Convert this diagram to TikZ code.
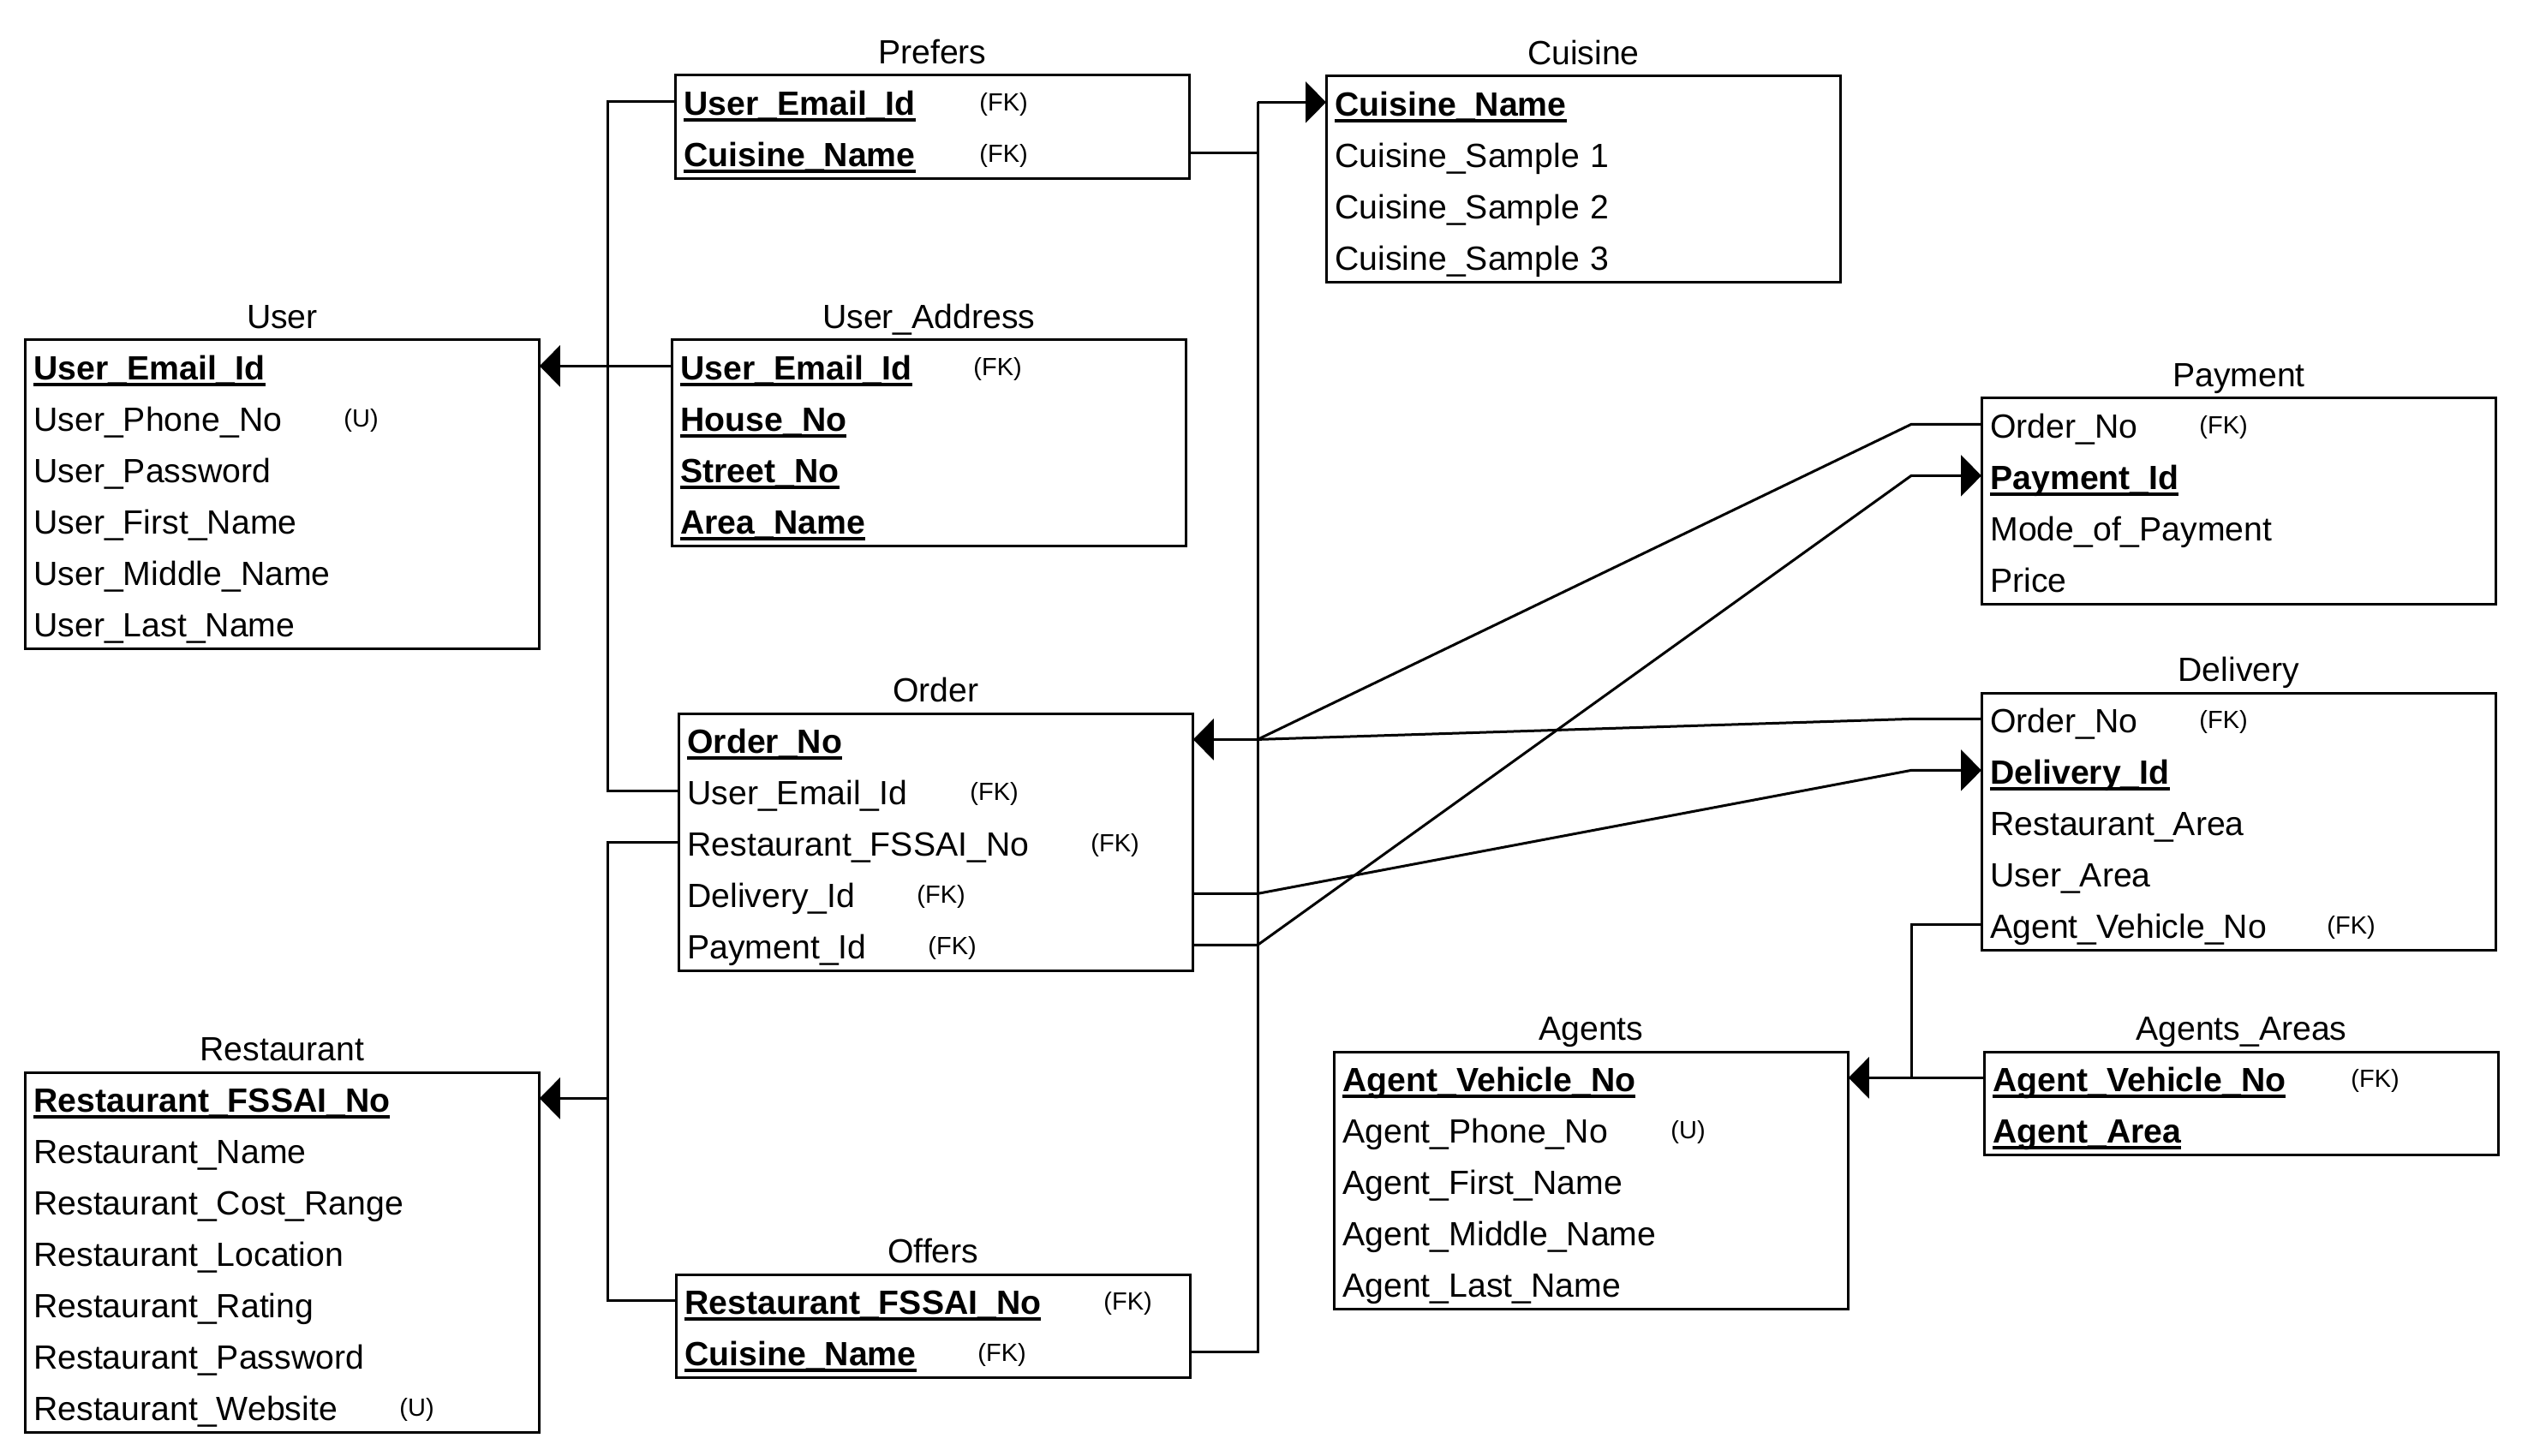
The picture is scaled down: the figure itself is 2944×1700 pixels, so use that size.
\documentclass[tikz,border=0pt]{standalone}
\usepackage{fontspec}
\setmainfont{Liberation Sans}
\usetikzlibrary{arrows.meta,calc,fit}

\newcommand\fieldfont{\fontsize{19.6pt}{23pt}\selectfont}
\newcommand\tagfont{\fontsize{14.5pt}{17pt}\selectfont}
\newsavebox\pkbox
% bold key attribute with a solid underline
\newcommand\pkey[1]{\sbox\pkbox{\bfseries #1}\rlap{\rule[-0.19em]{\wd\pkbox}{0.11em}}\usebox\pkbox}

\tikzset{
  x=0.5pt, y=-0.5pt,
  rowcell/.style={anchor=north west, inner xsep=5pt, inner ysep=0pt,
    text width=290pt, minimum height=30pt, text height=16pt, text depth=0pt,
    align=left, font=\fieldfont},
  entbox/.style={draw, line width=1.5pt, inner sep=0pt},
  ttl/.style={anchor=base, inner sep=0pt, font=\fieldfont},
  tag/.style={anchor=base west, inner sep=0pt, font=\tagfont},
  conn/.style={line width=1.5pt},
  arr/.style={conn, -{Triangle[length=12pt,width=24pt]}},
}

% \ent{name}{x}{y}{rows}{title}{list of fields}
\newcommand\ent[6]{%
  \foreach \fld [count=\i] in {#6} {
    \node[rowcell] (#1\i) at (#2,{#3+60*(\i-1)}) {\fld};
  }
  \node[entbox, fit=(#11)(#1#4)] (#1) {};
  \node[ttl] (#1-title) at ([yshift=6pt]#1.north) {#5};
}
% \fk{row}{offset}{text}
\newcommand\fk[3]{\node[tag] (#1-tag) at ([shift={(#2,11)}]#1.west) {#3};}

\begin{document}
\begin{tikzpicture}
\useasboundingbox (0,0) rectangle (2944,1700);

% entities
\ent{user}{29}{397}{6}{User}{\pkey{User\_Email\_Id},User\_Phone\_No,User\_Password,User\_First\_Name,User\_Middle\_Name,User\_Last\_Name}
\ent{pref}{788}{88}{2}{Prefers}{\pkey{User\_Email\_Id},\pkey{Cuisine\_Name}}
\ent{cuis}{1548}{89}{4}{Cuisine}{\pkey{Cuisine\_Name},Cuisine\_Sample 1,Cuisine\_Sample 2,Cuisine\_Sample 3}
\ent{addr}{784}{397}{4}{User\_Address}{\pkey{User\_Email\_Id},\pkey{House\_No},\pkey{Street\_No},\pkey{Area\_Name}}
\ent{ord}{792}{833}{5}{Order}{\pkey{Order\_No},User\_Email\_Id,Restaurant\_FSSAI\_No,Delivery\_Id,Payment\_Id}
\ent{pay}{2313}{465}{4}{Payment}{Order\_No,\pkey{Payment\_Id},Mode\_of\_Payment,Price}
\ent{del}{2313}{809}{5}{Delivery}{Order\_No,\pkey{Delivery\_Id},Restaurant\_Area,User\_Area,Agent\_Vehicle\_No}
\ent{rest}{29}{1252}{7}{Restaurant}{\pkey{Restaurant\_FSSAI\_No},Restaurant\_Name,Restaurant\_Cost\_Range,Restaurant\_Location,Restaurant\_Rating,Restaurant\_Password,Restaurant\_Website}
\ent{offr}{789}{1488}{2}{Offers}{\pkey{Restaurant\_FSSAI\_No},\pkey{Cuisine\_Name}}
\ent{agt}{1557}{1228}{5}{Agents}{\pkey{Agent\_Vehicle\_No},Agent\_Phone\_No,Agent\_First\_Name,Agent\_Middle\_Name,Agent\_Last\_Name}
\ent{area}{2316}{1228}{2}{Agents\_Areas}{\pkey{Agent\_Vehicle\_No},\pkey{Agent\_Area}}

% key markers
\fk{user2}{372}{(U)}
\fk{pref1}{355}{(FK)}
\fk{pref2}{355}{(FK)}
\fk{addr1}{352}{(FK)}
\fk{ord2}{340}{(FK)}
\fk{ord3}{481}{(FK)}
\fk{ord4}{278}{(FK)}
\fk{ord5}{291}{(FK)}
\fk{pay1}{254}{(FK)}
\fk{del1}{254}{(FK)}
\fk{del5}{403}{(FK)}
\fk{rest7}{437}{(U)}
\fk{offr1}{499}{(FK)}
\fk{offr2}{352}{(FK)}
\fk{agt2}{393}{(U)}
\fk{area1}{428}{(FK)}

% bus lines
\coordinate (lbus) at (709,0);
\coordinate (rbus) at (1468,0);
\coordinate (kbus) at (2231,0);

% user side
\draw[conn] (pref1.west) -- (pref1.west -| lbus) |- (ord2.west);
\draw[arr] (addr1.west) -- (user1.east);

% restaurant side
\draw[conn] (ord3.west) -- (ord3.west -| lbus) |- (offr1.west);
\draw[arr] (rest1.east -| lbus) -- (rest1.east);

% cuisine side
\draw[conn] (pref2.east) -- (pref2.east -| rbus);
\draw[conn] (cuis1.west -| rbus) -- (offr2.east -| rbus) -- (offr2.east);
\draw[arr] (cuis1.west -| rbus) -- (cuis1.west);

% order links
\coordinate (hub) at (ord1.east -| rbus);
\draw[arr] (hub) -- (ord1.east);
\draw[conn] (hub) -- (pay1.west -| kbus) -- (pay1.west);
\draw[conn] (hub) -- (del1.west -| kbus) -- (del1.west);
\draw[arr] (ord4.east) -- (ord4.east -| rbus) -- (del2.west -| kbus) -- (del2.west);
\draw[arr] (ord5.east) -- (ord5.east -| rbus) -- (pay2.west -| kbus) -- (pay2.west);

% agents
\draw[conn] (del5.west) -- (del5.west -| kbus) -- (area1.west -| kbus);
\draw[arr] (area1.west) -- (agt1.east);
\end{tikzpicture}
\end{document}
